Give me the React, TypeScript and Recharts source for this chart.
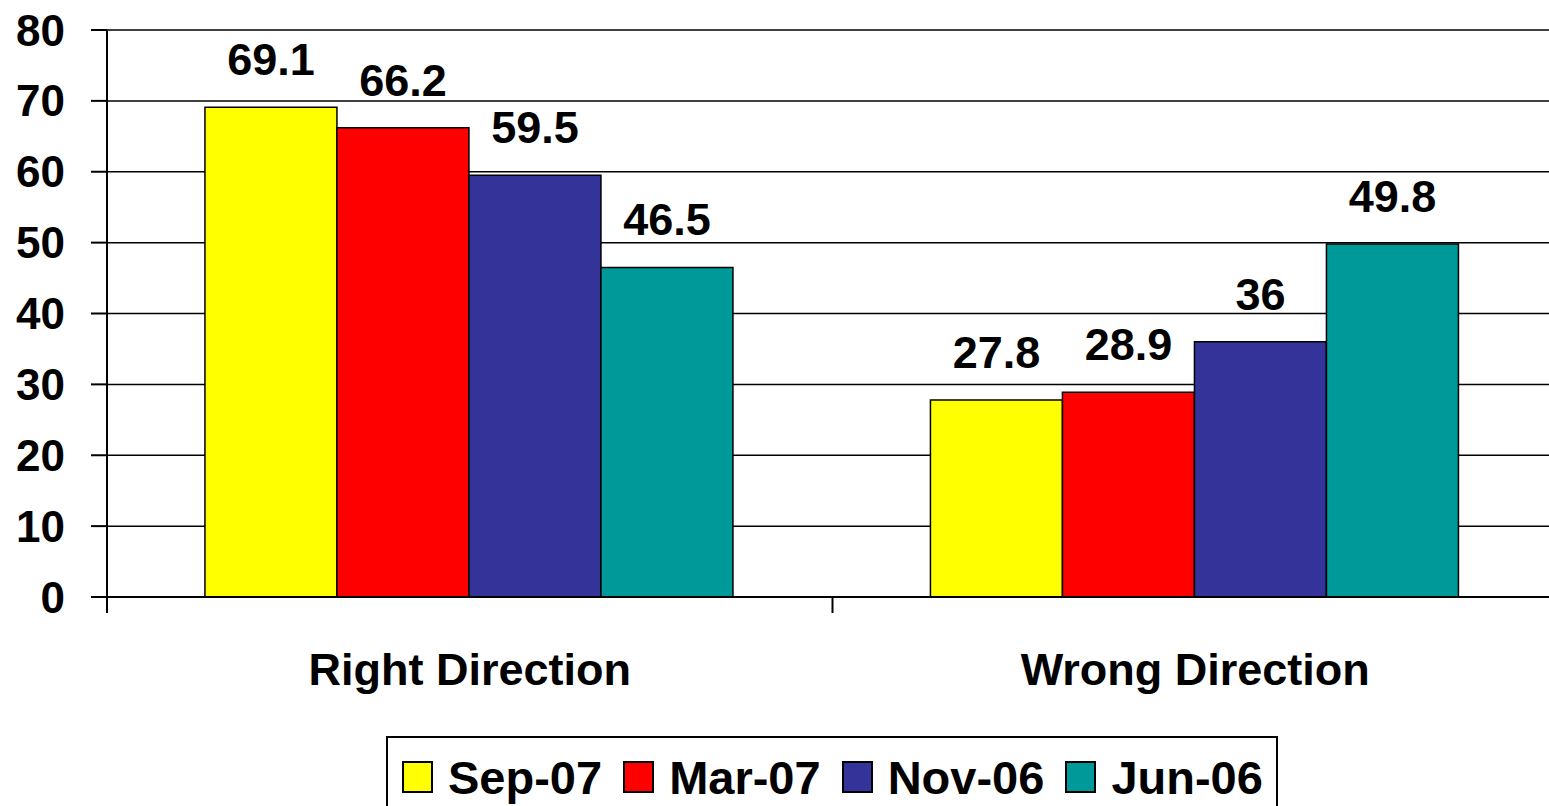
import React from 'react';
import { BarChart, Bar, XAxis, YAxis, CartesianGrid, Legend, LabelList } from 'recharts';

const categories = ['Right Direction', 'Wrong Direction'];
const seriesNames = ['Sep-07', 'Mar-07', 'Nov-06', 'Jun-06'];
const sep07 = [69.1, 27.8];
const mar07 = [66.2, 28.9];
const nov06 = [59.5, 36];
const jun06 = [46.5, 49.8];
const yTicks = [0, 10, 20, 30, 40, 50, 60, 70, 80];

const seriesKeys = ['s0', 's1', 's2', 's3'];
const seriesColors = ['#FFFF00', '#FF0000', '#333399', '#009999'];

const data = categories.map((name, i) => ({
  name,
  s0: sep07[i],
  s1: mar07[i],
  s2: nov06[i],
  s3: jun06[i],
}));

const FONT = '"Liberation Sans", Arial, sans-serif';
const CHART_W = 1558;
const CHART_H = 830;
const Y_AXIS_W = 107;
const PLOT_W = CHART_W - Y_AXIS_W;
const HALF_BAND = PLOT_W / categories.length / 2;

const CategoryTick = (props: any) => {
  const { x, y, payload, index } = props;
  const isLast = index === categories.length - 1;
  return (
    <g>
      <line x1={x - HALF_BAND} x2={x - HALF_BAND} y1={y} y2={y + 16} stroke="#000" strokeWidth={2} />
      {isLast && (
        <line x1={x + HALF_BAND} x2={x + HALF_BAND} y1={y} y2={y + 16} stroke="#000" strokeWidth={2} />
      )}
      <text
        x={x}
        y={y + 56}
        dy="0.71em"
        textAnchor="middle"
        fontFamily={FONT}
        fontWeight="bold"
        fontSize={45}
        fill="#000"
      >
        {payload.value}
      </text>
    </g>
  );
};

const LegendBox = () => (
  <div
    style={{
      boxSizing: 'border-box',
      width: 892,
      height: 82,
      border: '2px solid #000',
      background: '#fff',
      display: 'flex',
      alignItems: 'center',
      paddingLeft: 14,
      fontFamily: FONT,
      fontWeight: 'bold',
      fontSize: 47,
      color: '#000',
    }}
  >
    {seriesNames.map((n, i) => (
      <div key={n} style={{ display: 'flex', alignItems: 'center', marginRight: i < 3 ? 21 : 0 }}>
        <div
          style={{
            boxSizing: 'border-box',
            width: 31,
            height: 32,
            background: seriesColors[i],
            border: '2px solid #000',
            marginRight: 15,
          }}
        />
        <span style={{ lineHeight: 1 }}>{n}</span>
      </div>
    ))}
  </div>
);

export default function App() {
  return (
    <div style={{ position: 'absolute', left: 0, top: 0, width: 1549, height: 806, overflow: 'hidden', background: '#fff' }}>
      <BarChart
        width={CHART_W}
        height={CHART_H}
        data={data}
        margin={{ top: 30, right: 0, bottom: 12, left: 0 }}
        barCategoryGap="13.5%"
        barGap={0}
      >
        <CartesianGrid horizontal vertical={false} stroke="#000" strokeWidth={1.5} />
        <XAxis
          dataKey="name"
          interval={0}
          tickLine={false}
          tickSize={0}
          tickMargin={0}
          axisLine={{ stroke: '#000', strokeWidth: 2 }}
          tick={<CategoryTick />}
          height={139}
        />
        <YAxis
          domain={[0, 80]}
          ticks={yTicks}
          interval={0}
          width={Y_AXIS_W}
          tickSize={16}
          tickMargin={26}
          axisLine={{ stroke: '#000', strokeWidth: 2 }}
          tickLine={{ stroke: '#000', strokeWidth: 2 }}
          tick={{ fontFamily: FONT, fontWeight: 'bold', fontSize: 44, fill: '#000' }}
        />
        <Legend
          verticalAlign="bottom"
          content={() => <LegendBox />}
          wrapperStyle={{ left: 386, width: 892, height: 82 }}
        />
        {seriesKeys.map((k, i) => (
          <Bar
            key={k}
            dataKey={k}
            name={seriesNames[i]}
            fill={seriesColors[i]}
            stroke="#000"
            strokeWidth={1.5}
            isAnimationActive={false}
          >
            <LabelList
              dataKey={k}
              position="top"
              offset={32}
              fontFamily={FONT}
              fontWeight="bold"
              fontSize={45}
              fill="#000"
            />
          </Bar>
        ))}
      </BarChart>
    </div>
  );
}
